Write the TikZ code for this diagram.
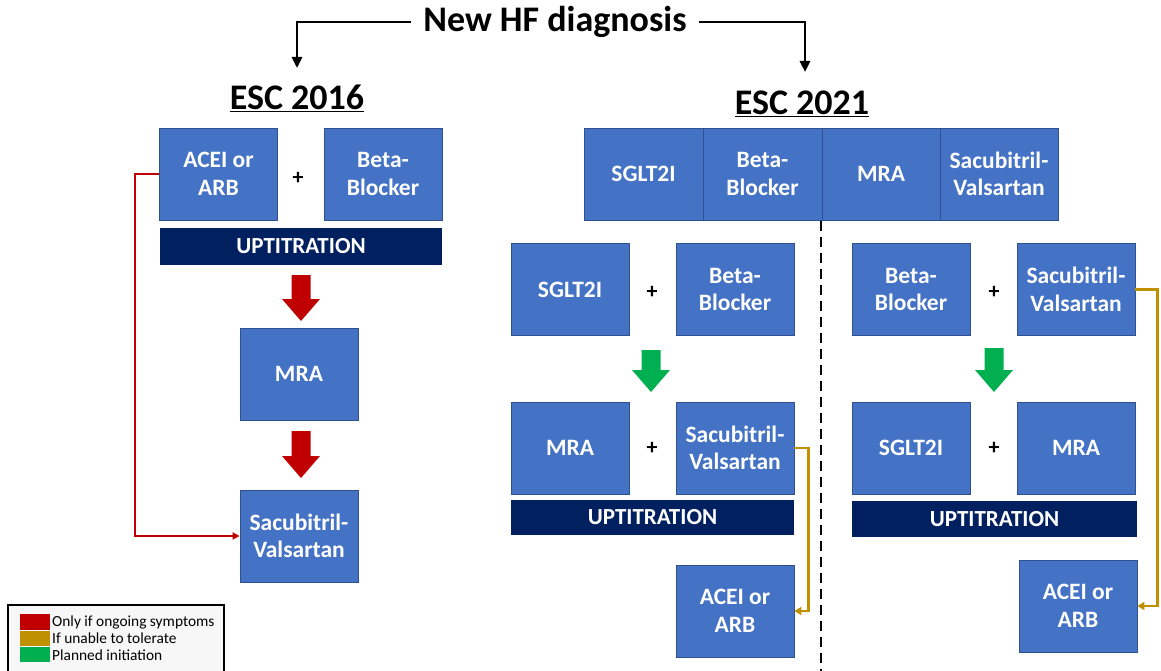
\documentclass[tikz,border=0pt]{standalone}
\usepackage{fontspec}
\setmainfont{Carlito}
\usetikzlibrary{arrows.meta,calc}
\definecolor{boxblue}{HTML}{4472C4}
\definecolor{boxedge}{HTML}{2F528F}
\definecolor{navy}{HTML}{002060}
\definecolor{hfred}{HTML}{C00000}
\definecolor{hfgold}{HTML}{BF9000}
\definecolor{hfgreen}{HTML}{00B050}
\tikzset{
  drug/.style={rectangle, fill=boxblue, draw=boxedge, line width=0.8pt, text=white,
    font=\fontsize{23.5}{27.5}\selectfont\bfseries, align=center,
    minimum width=118pt, minimum height=92pt, inner sep=2pt},
  uptit/.style={rectangle, fill=navy, text=white, font=\fontsize{23}{27}\selectfont\bfseries,
    minimum height=37pt, inner sep=0pt},
  plus/.style={font=\fontsize{22}{26}\selectfont\bfseries, inner sep=0pt},
  head/.style={font=\fontsize{36}{42}\selectfont\bfseries, inner sep=0pt},
  flow/.style={line width=2.6pt, -{Triangle[length=11pt,width=10pt]}},
  redlink/.style={draw=hfred, line width=2.4pt, -{Triangle[length=7pt,width=7pt]}},
  goldlink/.style={draw=hfgold, line width=2.6pt, -{Triangle[length=7pt,width=8pt]}},
  legtext/.style={font=\fontsize{15.4}{16}\selectfont, anchor=west, inner sep=0pt},
}
% block arrow: center x, top y, shaft end y, tip y, colour
\newcommand{\blockarr}[5]{%
  \fill[#5] (#1-9.5,#2) -- (#1+9.5,#2) -- (#1+9.5,#3) -- (#1+19,#3) -- (#1,#4)
    -- (#1-19,#3) -- (#1-9.5,#3) -- cycle;}
\begin{document}
\begin{tikzpicture}[x=1pt,y=-1pt]
\useasboundingbox (0,0) rectangle (1161,671);
\fill[white] (0,0) rectangle (1161,671);

% title
\node[head, inner xsep=12pt] (title) at (555,22) {New HF diagnosis};
\coordinate (a16) at (297,68);
\coordinate (a21) at (805,72);
\draw[flow] (title.west) -| (a16);
\draw[flow] (title.east) -| (a21);
\node[head] (esc16) at (297,98) {\underline{ESC 2016}};
\node[head] (esc21) at (802,104) {\underline{ESC 2021}};

% ESC 2016 column
\node[drug] (acei1) at (218.5,174) {ACEI or\\ARB};
\node[drug] (bb1) at (383,174) {Beta-\\Blocker};
\node[plus] (p1) at (298,178) {+};
\node[uptit, minimum width=282pt] (up1) at (301,246.5) {UPTITRATION};
\node[drug] (mra1) at (299,374) {MRA};
\node[drug] (sac1) at (299,536) {Sacubitril-\\Valsartan};
\blockarr{301}{275}{299}{321}{hfred}
\blockarr{301}{431}{456}{478}{hfred}
\draw[redlink] (acei1.west) -- ++(-24,0) |- (sac1.west);

% ESC 2021 header row
\node[drug, minimum width=119pt] (h1) at (643.5,174) {SGLT2I};
\node[drug, minimum width=119pt] (h2) at (762.5,174) {Beta-\\Blocker};
\node[drug, minimum width=118pt] (h3) at (881,174) {MRA};
\node[drug, minimum width=118pt] (h4) at (999,174) {Sacubitril-\\Valsartan};

% dashed divider
\coordinate (d1) at (821,221);
\coordinate (d2) at (821,671);
\draw[line width=2.8pt, dash pattern=on 10pt off 6pt] (d1) -- (d2);

% middle column
\node[drug] (sg2) at (570,289.5) {SGLT2I};
\node[plus] (p2) at (652,292) {+};
\node[drug] (bb2) at (735,289.5) {Beta-\\Blocker};
\blockarr{651}{350}{370}{392}{hfgreen}
\node[drug] (mra2) at (570,448) {MRA};
\node[plus] (p3) at (652,448) {+};
\node[drug] (sac2) at (735,448) {Sacubitril-\\Valsartan};
\node[uptit, minimum width=283pt, minimum height=35pt] (up2) at (652.5,517.5) {UPTITRATION};
\node[drug] (acei2) at (735,611) {ACEI or\\ARB};
\draw[goldlink] (sac2.east) -- ++(14,0) |- (acei2.east);

% right column
\node[drug] (bb3) at (911,289.5) {Beta-\\Blocker};
\node[plus] (p4) at (994,292) {+};
\node[drug] (sac3) at (1076,289.5) {Sacubitril-\\Valsartan};
\blockarr{994}{348}{370}{392}{hfgreen}
\node[drug] (sg3) at (911,448) {SGLT2I};
\node[plus] (p5) at (994,448) {+};
\node[drug] (mra3) at (1076,448) {MRA};
\node[uptit, minimum width=285pt, minimum height=36pt] (up3) at (994.5,519) {UPTITRATION};
\node[drug] (acei3) at (1078,606) {ACEI or\\ARB};
\draw[goldlink] (sac3.east) -- ++(22,0) |- (acei3.east);

% legend
\draw[line width=1.6pt, fill=gray!6] (8,605) rectangle (224,674);
\fill[hfred] (20,614) rectangle (50,630);
\fill[hfgold] (20,631) rectangle (50,646);
\fill[hfgreen] (20,647) rectangle (50,662);
\node[legtext] (l1) at (52,622) {Only if ongoing symptoms};
\node[legtext] (l2) at (52,638.5) {If unable to tolerate};
\node[legtext] (l3) at (52,655) {Planned initiation};
\end{tikzpicture}
\end{document}
